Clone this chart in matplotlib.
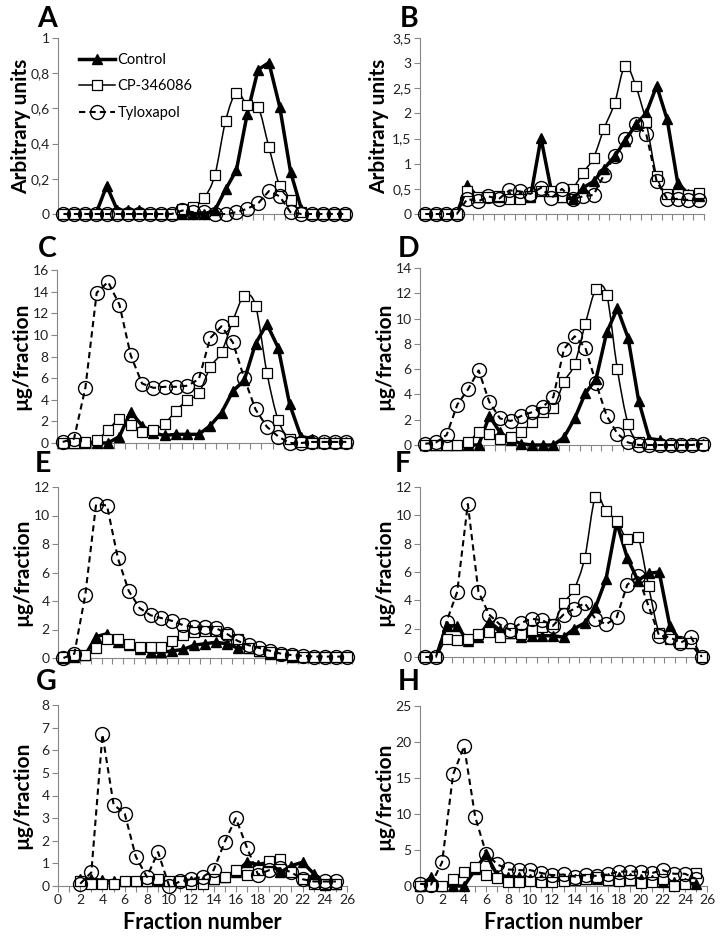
import matplotlib
matplotlib.use("Agg")
import numpy as np
import matplotlib.pyplot as plt
from matplotlib.path import Path
from matplotlib.patches import PathPatch
from matplotlib.lines import Line2D
from matplotlib.ticker import FuncFormatter, MultipleLocator

# ---- data ----
series_names = ["Control", "CP-346086", "Tyloxapol"]

a_control = [0, 0, 0, 0, 0.16, 0.02, 0.02, 0.02, 0, 0, 0, 0, 0, 0, 0.02, 0.14, 0.25, 0.57, 0.82, 0.86, 0.61, 0.24, 0.03, 0, 0, 0, 0]
a_cp = [0, 0, 0, 0, 0, 0, 0, 0, 0, 0, 0, 0.03, 0.04, 0.09, 0.22, 0.53, 0.69, 0.62, 0.61, 0.38, 0.16, 0.08, 0.01, 0, 0, 0, 0]
a_tylox = [0, 0, 0, 0, 0, 0, 0, 0, 0, 0, 0, 0.02, 0.01, 0.01, 0, 0, 0.01, 0.03, 0.06, 0.13, 0.10, 0.01, 0, 0, 0, 0, 0]

b_control = [0, 0, 0, 0, 0.58, 0.33, 0.33, 0.33, 0.35, 0.35, 0.33, 1.51, 0.45, 0.33, 0.3, 0.52, 0.65, 0.9, 1.15, 1.45, 1.78, 2.0, 2.55, 1.88, 0.62, 0.4, 0.35]
b_cp = [0, 0, 0, 0, 0.45, 0.33, 0.33, 0.35, 0.3, 0.3, 0.35, 0.45, 0.45, 0.33, 0.5, 0.82, 1.12, 1.7, 2.2, 2.95, 2.55, 1.82, 0.75, 0.4, 0.4, 0.38, 0.42]
b_tylox = [0, 0, 0, 0, 0.3, 0.25, 0.35, 0.3, 0.47, 0.45, 0.4, 0.52, 0.32, 0.5, 0.3, 0.35, 0.38, 0.78, 1.15, 1.5, 1.78, 1.6, 0.65, 0.3, 0.3, 0.28, 0.28]

c_control = [0, 0, 0, 0, 0, 0.6, 2.9, 1.6, 0.9, 0.7, 0.8, 0.8, 0.8, 1.6, 2.8, 4.8, 5.8, 9.2, 11.0, 8.8, 3.6, 0.6, 0.4, 0.1, 0.1, 0.1]
c_cp = [0, 0, 0.1, 0.3, 1.2, 2.2, 1.7, 1.0, 1.2, 1.8, 3.0, 4.0, 4.6, 7.0, 8.4, 11.3, 13.6, 12.7, 6.5, 2.1, 0.4, 0.1, 0, 0, 0, 0]
c_tylox = [0.1, 0.4, 5.1, 13.9, 14.9, 12.8, 8.1, 5.5, 5.1, 5.2, 5.2, 5.3, 5.9, 9.7, 10.8, 9.3, 6.0, 3.1, 1.5, 0.6, 0, 0, 0.1, 0.1, 0.1, 0.1]

d_control = [0, 0, 0, 0, 0, 0, 2.3, 1.0, 0.4, 0.1, 0, 0, 0, 0.6, 2.1, 4.1, 5.2, 8.9, 10.8, 8.5, 3.5, 0.5, 0.4, 0.1, 0.1, 0.1, 0.1]
d_cp = [0, 0, 0, 0, 0.2, 1.0, 0.9, 0.5, 0.6, 1.0, 1.8, 2.6, 2.9, 5.0, 6.4, 9.6, 12.3, 11.9, 6.0, 1.7, 0.2, 0.1, 0, 0, 0, 0, 0]
d_tylox = [0.1, 0.2, 0.8, 3.2, 4.4, 5.9, 3.4, 2.1, 1.9, 2.3, 2.6, 3.0, 3.8, 7.6, 8.6, 7.7, 4.9, 2.3, 0.9, 0.2, 0, 0, 0, 0, 0, 0, 0.1]

e_control = [0, 0.1, 0.2, 1.5, 1.7, 1.1, 0.9, 0.6, 0.4, 0.4, 0.5, 0.6, 0.9, 1.0, 1.1, 1.0, 0.7, 0.7, 0.5, 0.3, 0.2, 0.1, 0.1, 0.1, 0.1, 0.1, 0.1]
e_cp = [0.1, 0.2, 0.2, 0.7, 1.3, 1.3, 1.0, 0.8, 0.8, 0.8, 1.2, 1.6, 1.8, 1.9, 1.9, 1.7, 1.3, 0.7, 0.5, 0.4, 0.3, 0.2, 0.1, 0.1, 0.1, 0.1, 0.1]
e_tylox = [0, 0.3, 4.4, 10.8, 10.7, 7.0, 4.7, 3.5, 3.0, 2.8, 2.6, 2.3, 2.2, 2.2, 2.1, 1.7, 1.2, 0.9, 0.7, 0.5, 0.3, 0.2, 0.15, 0.1, 0.1, 0.1, 0.1]

f_control = [0, 0, 2.2, 2.2, 1.1, 1.4, 2.5, 1.9, 1.7, 1.4, 1.5, 1.5, 1.5, 1.4, 2.0, 2.4, 3.5, 5.5, 9.5, 7.0, 5.4, 5.9, 6.0, 2.2, 1.1, 1.0, 0]
f_cp = [0, 0, 1.3, 1.2, 1.3, 1.6, 1.8, 1.4, 1.7, 1.6, 1.9, 2.1, 2.3, 3.8, 4.8, 7.0, 11.3, 10.3, 9.6, 8.3, 8.5, 5.0, 1.7, 1.3, 1.0, 1.0, 0]
f_tylox = [0, 0, 2.5, 4.6, 10.8, 4.6, 3.0, 2.3, 1.9, 2.4, 2.7, 2.6, 2.2, 3.0, 3.4, 3.8, 2.7, 2.3, 2.8, 5.1, 5.7, 3.6, 1.5, 1.4, 1.0, 1.4, 0]

g_fraction = list(range(2, 26))
g_control = [0.3, 0.3, 0.25, 0.2, 0.2, 0.2, 0.2, 0.2, 0.2, 0.2, 0.2, 0.2, 0.3, 0.4, 0.6, 1.05, 0.95, 1.05, 0.6, 0.9, 1.05, 0.55, 0.05, 0.1]
g_cp = [0.2, 0.1, 0.1, 0.1, 0.2, 0.2, 0.2, 0.3, 0.2, 0.2, 0.1, 0.1, 0.3, 0.4, 0.7, 0.5, 0.7, 1.1, 1.2, 0.6, 0.3, 0.1, 0.1, 0.1]
g_tylox = [0.1, 0.6, 6.7, 3.6, 3.2, 1.3, 0.4, 1.5, 0.0, 0.2, 0.3, 0.4, 0.7, 1.95, 3.0, 1.7, 0.5, 0.7, 0.8, 0.6, 0.3, 0.2, 0.2, 0.2]

h_fraction = list(range(0, 26))
h_control = [0, 1.2, 0, 0, 0, 2.3, 4.4, 1.5, 1.3, 1.2, 1.0, 1.0, 1.0, 1.0, 1.0, 1.0, 1.0, 1.1, 1.2, 1.1, 1.0, 0.8, 0.6, 0.5, 0.4, 0.3]
h_cp = [0, 0, 0, 1.0, 1.9, 2.6, 1.5, 1.1, 0.6, 0.5, 0.7, 0.6, 0.6, 0.7, 0.8, 1.0, 1.2, 0.9, 0.7, 0.8, 0.4, 0.6, 1.0, 0.0, 0.3, 1.8]
h_tylox = [0.3, 0.2, 3.3, 15.5, 19.4, 9.6, 4.5, 3.0, 2.3, 2.2, 2.2, 1.8, 1.5, 1.6, 1.3, 1.5, 1.4, 1.6, 2.0, 2.0, 2.0, 1.8, 2.2, 1.7, 1.7, 1.0]

W, H = 723, 936
AXIS_GRAY = "#868686"

control_style = dict(color="black", lw=2.5, marker="^", ms=7, mfc="black", mec="black")
cp_style = dict(color="black", lw=1.1, marker="s", ms=7, mfc="white", mec="black", mew=0.9)
tylox_style = dict(color="black", lw=1.5, ls=(0, (3, 2)), marker="o", ms=10, mfc="none", mec="black", mew=1.0)


def smooth_path(x, y):
    # Excel style smoothed line: catmull-rom turned into cubic beziers
    n = len(x)
    verts = [(x[0], y[0])]
    codes = [Path.MOVETO]
    for i in range(n - 1):
        p0 = i - 1 if i > 0 else i
        p3 = i + 2 if i + 2 < n else i + 1
        c1 = (x[i] + (x[i + 1] - x[p0]) / 6, y[i] + (y[i + 1] - y[p0]) / 6)
        c2 = (x[i + 1] - (x[p3] - x[i]) / 6, y[i + 1] - (y[p3] - y[i]) / 6)
        verts += [c1, c2, (x[i + 1], y[i + 1])]
        codes += [Path.CURVE4] * 3
    return Path(verts, codes)


def comma(v, pos):
    return f"{v:g}".replace(".", ",")


def make_axes(fig, box):
    x0, y0, x1, y1 = box
    return fig.add_axes([x0 / W, 1 - y1 / H, (x1 - x0) / W, (y1 - y0) / H])


def draw_panel(ax, x, control, cp, tylox, ymax, ystep, ylabel, numeric=False, label_gap=26):
    ax.plot(x, control, clip_on=False, zorder=3, **control_style)
    patch = PathPatch(smooth_path(x, cp), fill=False, lw=cp_style["lw"], ec="black",
                      clip_on=False, zorder=4)
    ax.add_patch(patch)
    ax.plot(x, cp, ls="none", clip_on=False, zorder=4,
            **{k: v for k, v in cp_style.items() if k != "lw"})
    ax.plot(x, tylox, clip_on=False, zorder=5, **tylox_style)

    ax.set_ylim(0, ymax)
    ax.set_yticks(np.arange(0, ymax + ystep / 2, ystep))
    ax.yaxis.set_major_formatter(FuncFormatter(comma))

    if numeric:
        ax.set_xlim(0, 26)
        ax.set_xticks(range(0, 27, 2))
        ax.xaxis.set_minor_locator(MultipleLocator(1))
        ax.set_xlabel("Fraction number", fontsize=15.5, fontweight="bold", labelpad=4)
    else:
        n = len(x)
        ax.set_xlim(-0.5, n - 0.5)
        ax.set_xticks(np.arange(-0.5, n, 1))
        ax.tick_params(axis="x", labelbottom=False)

    for s in ["top", "right"]:
        ax.spines[s].set_visible(False)
    for s in ["left", "bottom"]:
        ax.spines[s].set_color(AXIS_GRAY)
        ax.spines[s].set_linewidth(0.8)
    ax.tick_params(which="both", direction="out", length=4, width=0.8, color=AXIS_GRAY,
                   labelsize=10, labelcolor="#222222", pad=2)

    ax.set_ylabel(ylabel, fontsize=15, fontweight="bold")
    width_px = ax.get_position().width * W
    ax.yaxis.set_label_coords(-label_gap / width_px, 0.5)


def main():
    plt.rcParams["font.family"] = ["Lato", "DejaVu Sans"]
    fig = plt.figure(figsize=(W / 100, H / 100), dpi=100)

    idx27 = list(range(27))
    idx26 = list(range(26))
    ug = "\u00b5g/fraction"

    panels = [
        ("A", (58, 38, 350, 214), idx27, a_control, a_cp, a_tylox, 1.0, 0.2, "Arbitrary units", False, 27),
        ("B", (420, 38, 704, 214), idx27, b_control, b_cp, b_tylox, 3.5, 0.5, "Arbitrary units", False, 31),
        ("C", (57, 270, 352, 443), idx26, c_control, c_cp, c_tylox, 16, 2, ug, False, 26),
        ("D", (420, 268, 708, 445), idx27, d_control, d_cp, d_tylox, 14, 2, ug, False, 26),
        ("E", (58, 487, 352, 658), idx27, e_control, e_cp, e_tylox, 12, 2, ug, False, 26),
        ("F", (420, 487, 707, 657), idx27, f_control, f_cp, f_tylox, 12, 2, ug, False, 26),
        ("G", (58, 705, 347, 886), g_fraction, g_control, g_cp, g_tylox, 8, 1, ug, True, 26),
        ("H", (420, 706, 707, 886), h_fraction, h_control, h_cp, h_tylox, 25, 5, ug, True, 26),
    ]
    # baseline position of the panel letters, in pixels
    letter_pos = {"A": (47, 27), "B": (409, 27), "C": (47, 257), "D": (409, 257),
                  "E": (43, 472), "F": (403, 472), "G": (46, 690), "H": (409, 690)}

    axes = {}
    for letter, box, x, ctl, cp, ty, ymax, ystep, ylab, numeric, gap in panels:
        ax = make_axes(fig, box)
        draw_panel(ax, x, ctl, cp, ty, ymax, ystep, ylab, numeric, gap)
        axes[letter] = ax
        lx, ly = letter_pos[letter]
        fig.text(lx / W, 1 - ly / H, letter, fontsize=20.5, fontweight="bold",
                 ha="center", va="baseline")

    handles = [
        Line2D([], [], **control_style),
        Line2D([], [], **cp_style),
        Line2D([], [], **tylox_style),
    ]
    axes["A"].legend(handles, series_names, loc="upper left", bbox_to_anchor=(0.072, 0.915),
                     frameon=False, fontsize=10.5, handlelength=2.5, handletextpad=0.15,
                     labelspacing=0.85, borderpad=0, borderaxespad=0)

    fig.savefig("out.png", dpi=100)
    plt.close(fig)


if __name__ == "__main__":
    main()
